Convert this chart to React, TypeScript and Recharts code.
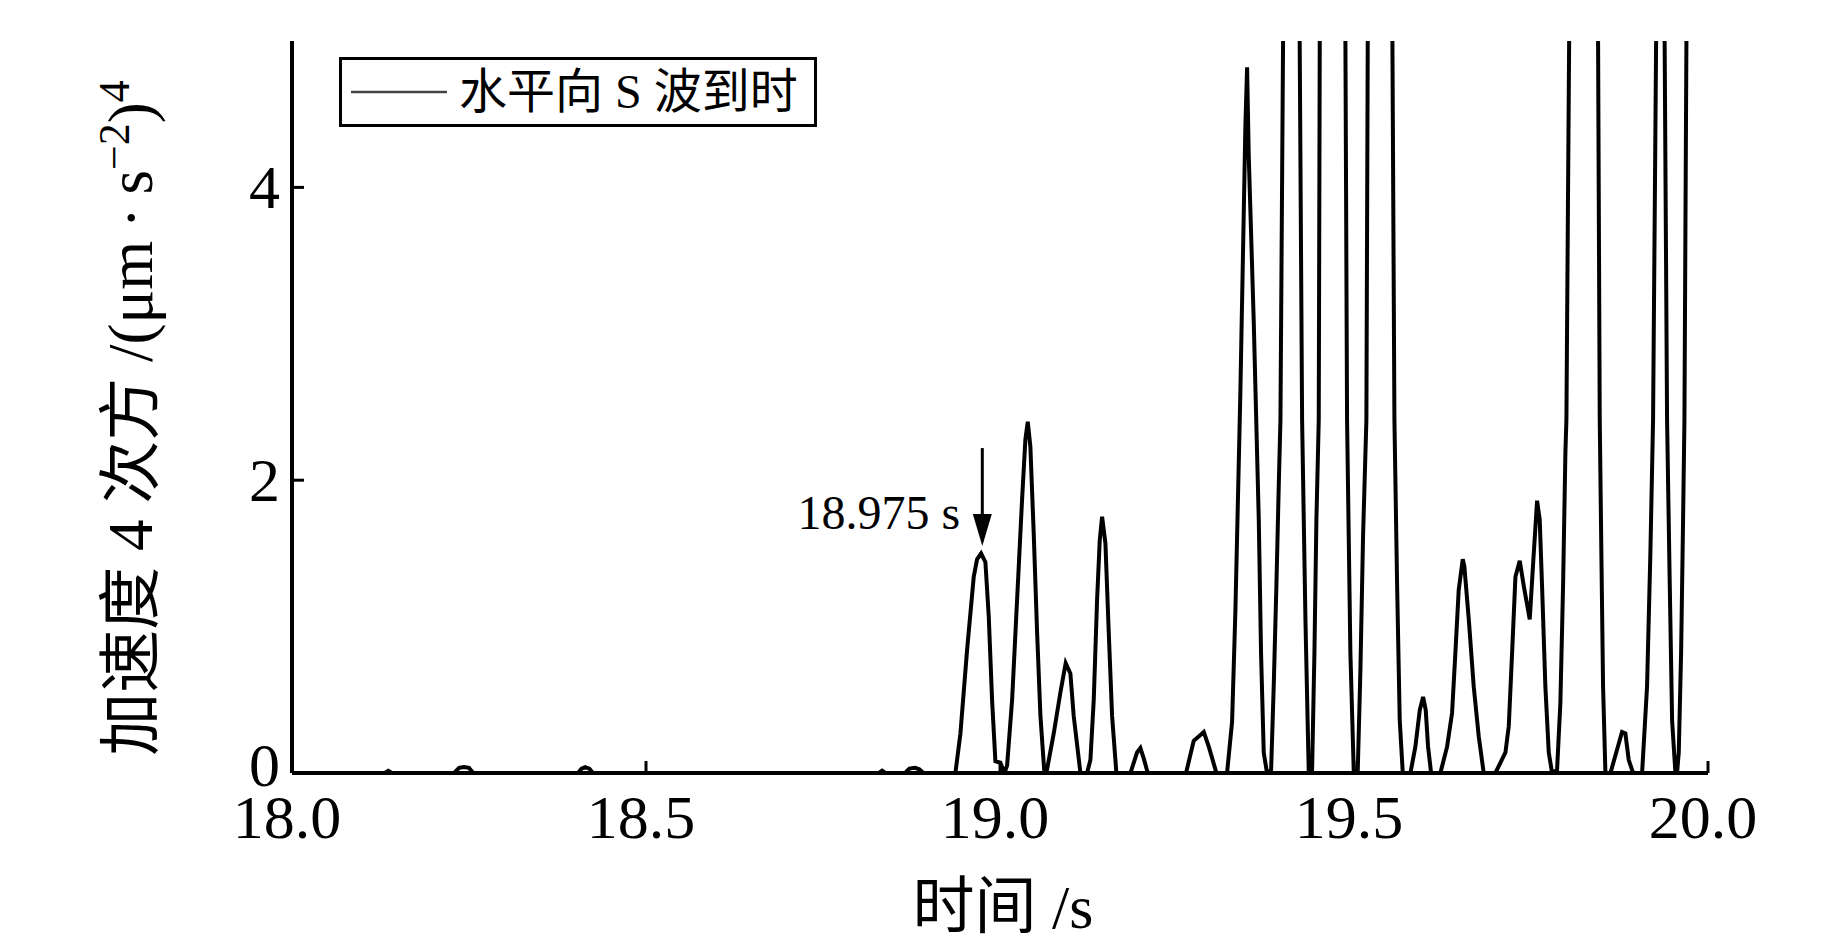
import { Label, Legend, Line, LineChart, ReferenceDot, XAxis, YAxis } from "recharts";

// time (s) and 4th power of acceleration
const timeS = [
  18.0, 18.131, 18.136, 18.141, 18.229, 18.236, 18.243, 18.25, 18.256,
  18.404, 18.409, 18.414, 18.42, 18.425, 18.829, 18.8335, 18.838,
  18.866, 18.872, 18.88, 18.886, 18.892,
  18.937, 18.9441, 18.9535, 18.9629, 18.9676, 18.9733, 18.9794, 18.9841, 18.9888, 18.9935, 19.0006, 19.0062,
  19.01, 19.0171, 19.0241, 19.0312, 19.0359, 19.0392, 19.0429, 19.0476, 19.0524, 19.0571, 19.0627,
  19.0655, 19.0759, 19.0853, 19.0928, 19.0994, 19.1041, 19.1136,
  19.123, 19.1277, 19.1324, 19.1371, 19.1409, 19.1442, 19.1489, 19.1536, 19.1583, 19.1644,
  19.1842, 19.1936, 19.1983, 19.203, 19.2087,
  19.2628, 19.2736, 19.2807, 19.2878, 19.2949, 19.3057,
  19.3207, 19.3278, 19.3325, 19.3395, 19.3466, 19.349, 19.3513, 19.3583, 19.3655, 19.3687, 19.3725, 19.3765,
  19.3796, 19.3829, 19.3866, 19.3904, 19.3937, 19.3961, 19.412, 19.4267, 19.4314, 19.4361,
  19.4375, 19.4408, 19.4441, 19.4469, 19.4502, 19.4654, 19.4902, 19.4949, 19.4996,
  19.502, 19.5053, 19.5091, 19.5128, 19.5175, 19.5334, 19.5571, 19.5609, 19.5646, 19.5689,
  19.5797, 19.5867, 19.5929, 19.5976, 19.6013, 19.6046, 19.6089,
  19.622, 19.6315, 19.6385, 19.6432, 19.6479, 19.6536, 19.6559, 19.6621, 19.6691, 19.6762, 19.6832,
  19.6997, 19.7139, 19.7186, 19.7233, 19.728, 19.7341, 19.7397, 19.7482, 19.7539, 19.7586, 19.7623, 19.7656, 19.7703, 19.7751, 19.7798,
  19.7868, 19.7915, 19.7953, 19.7986, 19.8, 19.8293, 19.8471, 19.8494, 19.8518, 19.8551,
  19.8622, 19.8716, 19.8786, 19.8833, 19.888, 19.8942,
  19.9069, 19.9139, 19.9186, 19.9224, 19.9334, 19.9422, 19.946, 19.9493, 19.954,
  19.9563, 19.9587, 19.962, 19.9648, 19.9667, 20.0,
];

const accel4 = [
  0, 0, 0.015, 0, 0, 0.035, 0.04, 0.035, 0,
  0, 0.03, 0.04, 0.03, 0, 0, 0.015, 0,
  0, 0.03, 0.035, 0.025, 0,
  0, 0.27, 0.84, 1.34, 1.46, 1.5, 1.44, 1.07, 0.5, 0.08, 0.07, 0,
  0.05, 0.5, 1.18, 1.87, 2.28, 2.4, 2.23, 1.64, 0.96, 0.39, 0,
  0, 0.27, 0.55, 0.75, 0.68, 0.39, 0,
  0, 0.09, 0.5, 1.18, 1.59, 1.75, 1.57, 0.96, 0.39, 0,
  0, 0.14, 0.17, 0.1, 0,
  0, 0.22, 0.25, 0.28, 0.18, 0,
  0, 0.35, 1.11, 2.6, 4.42, 4.82, 4.22, 3.1, 1.73, 0.82, 0.14, 0.02,
  0, 0.02, 0.59, 1.28, 1.96, 2.41, 13.5, 2.41, 1.05, 0,
  0, 0.02, 0.82, 1.73, 2.41, 30, 2.41, 0.82, 0.02,
  0, 0.02, 0.71, 1.62, 2.41, 24, 2.41, 1.28, 0.36, 0,
  0, 0.18, 0.43, 0.52, 0.43, 0.18, 0,
  0, 0.18, 0.41, 0.82, 1.25, 1.46, 1.41, 1.05, 0.59, 0.25, 0,
  0, 0.14, 0.32, 0.82, 1.34, 1.45, 1.28, 1.05, 1.5, 1.86, 1.73, 1.28, 0.59, 0.14, 0,
  0.02, 0.48, 1.28, 2.19, 2.41, 22, 2.41, 1.5, 0.59, 0,
  0, 0.16, 0.28, 0.27, 0.09, 0,
  0, 0.59, 1.5, 2.41, 9, 2.41, 1.28, 0.36, 0,
  0, 0.14, 0.82, 1.73, 2.41, 33,
];

const xTicks = [18, 18.5, 19, 19.5, 20];
const yTicks = [0, 2, 4];
const seriesName = "水平向 S 波到时";
const arrivalTime = 18.975;
const arrivalValue = 1.55;

const data = timeS.map((t, i) => ({ t, v: accel4[i] }));

const SERIF = '"Liberation Serif", "Times New Roman", "Noto Sans CJK SC", serif';

function XTick({ x, y, payload }: any) {
  return (
    <g>
      <line x1={x} x2={x} y1={y} y2={y - 12} stroke="#000" strokeWidth={3} />
      <text x={x - 5} y={y + 65} textAnchor="middle" fontFamily={SERIF} fontSize={62} fill="#000">
        {Number(payload.value).toFixed(1)}
      </text>
    </g>
  );
}

function YTick({ x, y, payload }: any) {
  // the zero label sits a little higher so it clears the x labels
  const lift = payload.value === 0 ? 8 : 0;
  return (
    <g>
      <line x1={x} x2={x + 12} y1={y} y2={y} stroke="#000" strokeWidth={3} />
      <text x={x - 12} y={y + 21 - lift} textAnchor="end" fontFamily={SERIF} fontSize={62} fill="#000">
        {payload.value}
      </text>
    </g>
  );
}

function XTitle() {
  return (
    <text x={1003} y={928} textAnchor="middle" fontFamily={SERIF} fontSize={62} fill="#000">
      {"时间 /s"}
    </text>
  );
}

function YTitle() {
  const x = 152;
  const y = 418;
  return (
    <text
      x={x}
      y={y}
      transform={`rotate(-90 ${x} ${y})`}
      textAnchor="middle"
      fontFamily={SERIF}
      fontSize={63}
      fill="#000"
    >
      {"加速度 4 次方 /(μm\u2009·\u2009s"}
      <tspan fontSize={44} dy={-23}>{"−2"}</tspan>
      <tspan dy={23}>{")"}</tspan>
      <tspan fontSize={44} dy={-23}>{"4"}</tspan>
    </text>
  );
}

function ArrivalMark({ cx, cy }: any) {
  return (
    <g>
      <line x1={cx} x2={cx} y1={cy - 98} y2={cy - 28} stroke="#000" strokeWidth={3} />
      <path d={`M${cx - 9.5},${cy - 32} L${cx + 9.5},${cy - 32} L${cx},${cy} Z`} fill="#000" />
      <text x={cx - 22} y={cy - 17} textAnchor="end" fontFamily={SERIF} fontSize={48} fill="#000">
        {`${arrivalTime.toFixed(3)} s`}
      </text>
    </g>
  );
}

function LegendBox({ payload }: any) {
  const name = payload?.[0]?.value ?? seriesName;
  return (
    <div
      style={{
        boxSizing: "border-box",
        width: 478,
        height: 70,
        border: "3px solid #000",
        background: "#fff",
        display: "flex",
        alignItems: "center",
        paddingLeft: 9,
      }}
    >
      <svg width={96} height={10} style={{ display: "block" }}>
        <line x1={0} x2={96} y1={5} y2={5} stroke="#444" strokeWidth={2.5} />
      </svg>
      <span style={{ marginLeft: 12, fontFamily: SERIF, fontSize: 48, lineHeight: 1, color: "#000", whiteSpace: "pre" }}>
        {name}
      </span>
    </div>
  );
}

export default function App() {
  return (
    <div style={{ position: "absolute", left: 0, top: 0, background: "#fff" }}>
      <LineChart
        width={1843}
        height={945}
        data={data}
        margin={{ top: 41, right: 135, bottom: 112, left: 232 }}
      >
        <XAxis
          dataKey="t"
          type="number"
          domain={[18, 20]}
          ticks={xTicks}
          interval={0}
          height={60}
          tickSize={0}
          tickMargin={0}
          tickLine={false}
          tick={<XTick />}
          axisLine={{ stroke: "#000", strokeWidth: 4 }}
        >
          <Label content={<XTitle />} />
        </XAxis>
        <YAxis
          type="number"
          domain={[0, 5]}
          allowDataOverflow
          ticks={yTicks}
          interval={0}
          width={60}
          tickSize={0}
          tickMargin={0}
          tickLine={false}
          tick={<YTick />}
          axisLine={{ stroke: "#000", strokeWidth: 4 }}
        >
          <Label content={<YTitle />} />
        </YAxis>
        <Legend
          layout="vertical"
          align="center"
          verticalAlign="middle"
          wrapperStyle={{ left: 339, top: 57, width: 478, height: 70 }}
          content={<LegendBox />}
        />
        <Line
          type="linear"
          dataKey="v"
          name={seriesName}
          stroke="#000"
          strokeWidth={4}
          dot={false}
          activeDot={false}
          isAnimationActive={false}
        />
        <ReferenceDot x={arrivalTime} y={arrivalValue} shape={<ArrivalMark />} />
      </LineChart>
    </div>
  );
}
